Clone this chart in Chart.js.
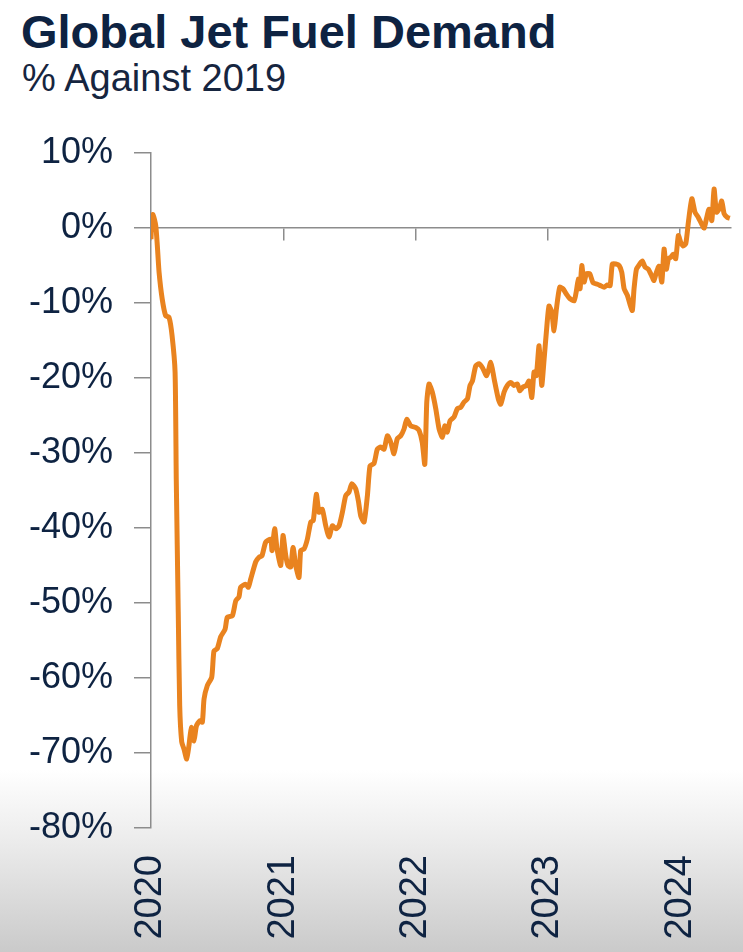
<!DOCTYPE html>
<html>
<head>
<meta charset="utf-8">
<script src="https://cdn.jsdelivr.net/npm/chart.js@4.4.1/dist/chart.umd.min.js"></script>
<style>
  html, body { margin: 0; padding: 0; }
  body {
    width: 743px; height: 952px; position: relative; overflow: hidden;
    background: linear-gradient(to bottom, #ffffff 0px, #ffffff 770px, #ececec 840px, #dadada 900px, #cacaca 952px);
    font-family: "Liberation Sans", Arial, sans-serif;
  }
  #title {
    position: absolute; left: 21px; top: 8px; margin: 0;
    font-size: 47px; line-height: 47px; font-weight: bold; color: #0e2342;
    white-space: nowrap;
  }
  #subtitle {
    position: absolute; left: 22px; top: 59px; margin: 0;
    font-size: 38px; line-height: 38px; font-weight: normal; color: #16253f;
    white-space: nowrap;
  }
  #chart { position: absolute; left: 0; top: 0; }
</style>
</head>
<body>
<h1 id="title">Global Jet Fuel Demand</h1>
<div id="subtitle">% Against 2019</div>
<canvas id="chart" width="743" height="952"></canvas>
<script>
// Time (decimal year) of each observation
const years = [
  2020.000, 2020.005, 2020.015, 2020.036, 2020.048, 2020.061, 2020.085, 2020.111, 2020.136, 2020.159,
  2020.182, 2020.191, 2020.206, 2020.217, 2020.232, 2020.250, 2020.270, 2020.287, 2020.305, 2020.325,
  2020.343, 2020.368, 2020.388, 2020.401, 2020.426, 2020.459, 2020.476, 2020.501, 2020.527, 2020.560,
  2020.577, 2020.615, 2020.641, 2020.665, 2020.678, 2020.716, 2020.736, 2020.754, 2020.792, 2020.817,
  2020.839, 2020.867, 2020.905, 2020.915, 2020.935, 2020.953, 2020.981, 2020.998, 2021.019, 2021.036,
  2021.056, 2021.074, 2021.094, 2021.119, 2021.132, 2021.157, 2021.182, 2021.208, 2021.227, 2021.250,
  2021.270, 2021.295, 2021.321, 2021.346, 2021.371, 2021.397, 2021.422, 2021.447, 2021.472, 2021.497,
  2021.518, 2021.548, 2021.568, 2021.586, 2021.611, 2021.636, 2021.656, 2021.686, 2021.711, 2021.737,
  2021.762, 2021.787, 2021.813, 2021.837, 2021.862, 2021.888, 2021.913, 2021.934, 2021.964, 2022.002,
  2022.027, 2022.051, 2022.070, 2022.085, 2022.102, 2022.127, 2022.153, 2022.178, 2022.203, 2022.221,
  2022.240, 2022.261, 2022.291, 2022.316, 2022.342, 2022.367, 2022.392, 2022.412, 2022.430, 2022.455,
  2022.480, 2022.505, 2022.538, 2022.569, 2022.594, 2022.626, 2022.644, 2022.669, 2022.694, 2022.720,
  2022.745, 2022.770, 2022.788, 2022.813, 2022.838, 2022.858, 2022.879, 2022.896, 2022.913, 2022.934,
  2022.954, 2022.972, 2022.989, 2023.009, 2023.030, 2023.047, 2023.065, 2023.090, 2023.115, 2023.140,
  2023.166, 2023.199, 2023.216, 2023.231, 2023.244, 2023.257, 2023.274, 2023.292, 2023.317, 2023.342,
  2023.375, 2023.400, 2023.425, 2023.450, 2023.471, 2023.488, 2023.514, 2023.539, 2023.559, 2023.577,
  2023.602, 2023.620, 2023.639, 2023.652, 2023.670, 2023.695, 2023.715, 2023.735, 2023.760, 2023.786,
  2023.803, 2023.821, 2023.841, 2023.862, 2023.879, 2023.896, 2023.912, 2023.930, 2023.947, 2023.967,
  2023.987, 2024.005, 2024.023, 2024.043, 2024.063, 2024.089, 2024.113, 2024.138, 2024.164, 2024.182,
  2024.199, 2024.219, 2024.240, 2024.257, 2024.275, 2024.295, 2024.315, 2024.333, 2024.358, 2024.376
];
// Jet fuel demand, % change against 2019
const demand = [
  -1.5, 0.8, 1.8, 0.3, -2.4, -5.9, -9.5, -11.7, -11.9, -14.3,
  -19.2, -33.5, -51.2, -63.7, -68.5, -69.5, -70.8, -69.0, -66.6, -68.4,
  -66.4, -65.7, -65.9, -62.8, -61.0, -59.9, -56.4, -56.1, -54.5, -53.5,
  -51.9, -51.7, -49.7, -49.2, -47.9, -47.5, -47.9, -46.8, -44.5, -43.9,
  -43.7, -41.9, -41.5, -43.0, -40.1, -42.8, -45.0, -41.0, -43.7, -45.0,
  -45.2, -42.6, -45.0, -46.6, -43.0, -42.8, -41.5, -39.2, -39.0, -35.5,
  -37.9, -37.5, -39.7, -41.2, -39.7, -40.1, -39.7, -37.9, -35.7, -35.2,
  -34.1, -34.8, -36.4, -38.4, -39.2, -35.7, -31.7, -31.4, -29.5, -29.2,
  -29.5, -27.7, -28.6, -30.1, -28.1, -27.7, -26.8, -25.5, -26.4, -26.6,
  -27.0, -28.6, -31.5, -23.2, -20.8, -21.9, -24.1, -26.8, -27.9, -26.4,
  -27.2, -25.7, -25.2, -24.1, -23.9, -23.2, -22.8, -21.0, -20.4, -18.4,
  -18.1, -18.6, -19.7, -17.9, -20.1, -22.8, -23.5, -21.9, -21.0, -20.6,
  -21.0, -20.8, -21.7, -21.2, -21.0, -20.4, -22.6, -19.2, -19.7, -15.7,
  -21.0, -17.5, -13.9, -10.4, -11.2, -13.7, -10.8, -7.9, -8.1, -8.8,
  -9.4, -9.7, -8.4, -6.8, -8.1, -5.0, -7.2, -6.1, -6.1, -7.3,
  -7.5, -7.7, -7.9, -7.6, -7.7, -4.8, -4.8, -5.0, -5.9, -8.1,
  -9.0, -10.1, -11.0, -8.1, -5.5, -4.8, -4.4, -5.2, -5.5, -6.4,
  -7.0, -5.9, -5.1, -7.2, -2.8, -5.5, -4.1, -3.9, -3.5, -4.1,
  -1.0, -1.9, -2.4, -2.1, 0.8, 3.9, 2.1, 1.4, 0.5, 0.0,
  1.2, 2.5, 1.0, 5.2, 2.1, 2.5, 3.6, 1.9, 1.4, 1.3
];
// Axis labels / ranges
const yearTicks = [2020, 2021, 2022, 2023, 2024];
const xMin = 2020;
const xMax = 2024.385;
const yMin = -80;
const yMax = 10;
const yStep = 10;

const NAVY = '#0e2342';
const AXIS = '#8c8c8c';
const ORANGE = '#e9831f';
const FONT = '"Liberation Sans", Arial, sans-serif';

const points = years.map((x, i) => ({ x: x, y: demand[i] }));

function noSidePadding(s) { s.paddingLeft = 0; s.paddingRight = 0; }

new Chart(document.getElementById('chart'), {
  type: 'line',
  data: {
    datasets: [{
      data: points,
      xAxisID: 'x',
      yAxisID: 'y',
      borderColor: ORANGE,
      backgroundColor: ORANGE,
      borderWidth: 5,
      pointRadius: 0,
      tension: 0.2,
      fill: false
    }]
  },
  options: {
    responsive: false,
    animation: false,
    devicePixelRatio: 1,
    layout: { padding: { top: 153, right: 12, left: 0, bottom: 0 } },
    plugins: { legend: { display: false }, tooltip: { enabled: false }, title: { display: false } },
    scales: {
      x: {
        type: 'linear',
        position: 'bottom',
        min: xMin,
        max: xMax,
        afterFit: (s) => { s.height = 952 - 828; noSidePadding(s); },
        grid: { display: false, drawTicks: false },
        border: { display: false },
        ticks: {
          stepSize: 1,
          includeBounds: false,
          autoSkip: false,
          minRotation: 90,
          maxRotation: 90,
          padding: 27,
          color: NAVY,
          font: { family: FONT, size: 38 },
          callback: (v) => yearTicks.includes(v) ? String(v) : ''
        }
      },
      x2: {
        type: 'linear',
        position: { y: 0 },
        min: xMin,
        max: xMax,
        afterFit: noSidePadding,
        grid: { drawOnChartArea: false, drawTicks: true, tickLength: 12, color: AXIS, lineWidth: 1.5 },
        border: { display: true, color: AXIS, width: 1.5 },
        ticks: { stepSize: 1, includeBounds: false, display: false }
      },
      y: {
        type: 'linear',
        position: 'left',
        min: yMin,
        max: yMax,
        afterFit: (s) => { s.width = 151; },
        grid: { drawOnChartArea: false, drawTicks: true, tickLength: 17, color: AXIS, lineWidth: 1.5 },
        border: { display: true, color: AXIS, width: 1.5 },
        ticks: {
          stepSize: yStep,
          padding: 21,
          color: NAVY,
          font: { family: FONT, size: 36 },
          callback: (v) => v + '%'
        }
      }
    }
  }
});
</script>
</body>
</html>
